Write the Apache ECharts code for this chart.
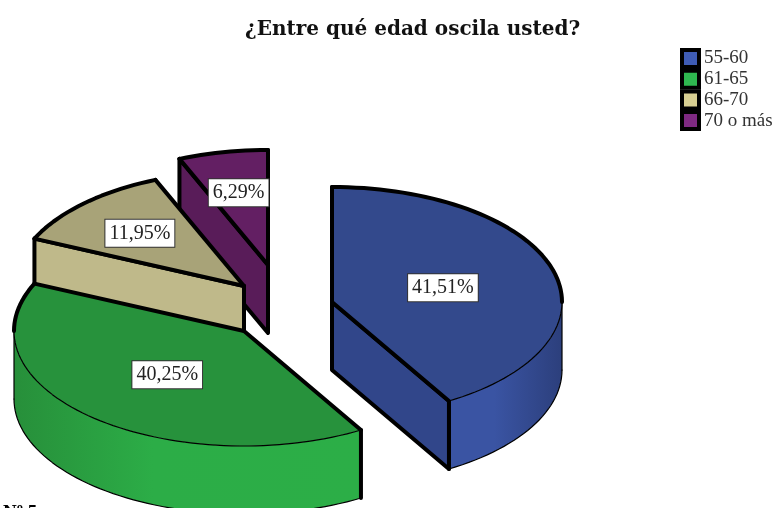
<!DOCTYPE html>
<html>
<head>
<meta charset="utf-8">
<script src="https://cdn.jsdelivr.net/npm/echarts@6/dist/echarts.min.js"></script>
<style>
html,body{margin:0;padding:0;background:#fff;}
#chart{width:774px;height:508px;}
</style>
</head>
<body>
<div id="chart"></div>
<script>
const categories = ['55-60', '61-65', '66-70', '70 o más']
const values = [41.51, 40.25, 11.95, 6.29]
const labels = ['41,51%', '40,25%', '11,95%', '6,29%']

// slice centres after the explode, and how far out the label sits
const centers = [[332, 302], [244, 331], [244, 286], [268, 265]]
const labelRadius = [0.5, 0.5, 0.65, 0.65]

const legendColors = ['#3f5cb5', '#2fb850', '#d8cf92', '#7f2a82']
const topColors = ['#33498c', '#27923c', '#a8a378', '#631f63']
const cutColors = ['#31468a', '#27923c', '#bfb98a', '#591c59']
const wallLeft = ['#3a54a3', '#278f3a', '#bfb98a', '#591c59']
const wallMid = ['#3a54a3', '#2cad47', '#bfb98a', '#591c59']
const wallRight = ['#2c3f7c', '#2cae47', '#bfb98a', '#591c59']

const rx = 230
const ry = 115
const depth = 68
const thick = 4
const thin = 1.2

const rad = d => d * Math.PI / 180

function pt(c, a, z) {
  return [c[0] + rx * Math.sin(rad(a)), c[1] - ry * Math.cos(rad(a)) + (z || 0)]
}

function arc(c, a1, a2, z) {
  const pts = []
  const n = Math.max(2, Math.ceil(Math.abs(a2 - a1) / 2))
  for (let k = 0; k <= n; k++) {
    pts.push(pt(c, a1 + (a2 - a1) * k / n, z))
  }
  return pts
}

function line(points, width) {
  return {
    type: 'polyline',
    shape: { points: points },
    style: { fill: null, stroke: '#000', lineWidth: width, lineJoin: 'round', lineCap: 'round' }
  }
}

function poly(points, fill) {
  return { type: 'polygon', shape: { points: points }, style: { fill: fill } }
}

function sliceAngles(i) {
  let start = 0
  for (let k = 0; k < i; k++) start += values[k]
  return [start * 3.6, (start + values[i]) * 3.6]
}

function renderSlice(i) {
  return function (params, api) {
    const c = centers[i]
    const [start, end] = sliceAngles(i)
    const children = []
    const bottom = [c[0], c[1] + depth]

    // outer wall, only the part facing the viewer
    const w1 = Math.max(start, 90)
    const w2 = Math.min(end, 270)
    if (w2 > w1) {
      const upper = arc(c, w1, w2, 0)
      const lower = arc(c, w1, w2, depth)
      children.push(poly(upper.concat(lower.slice().reverse()), new echarts.graphic.LinearGradient(1, 0, 0, 0, [
        { offset: 0, color: wallRight[i] },
        { offset: 0.6, color: wallMid[i] },
        { offset: 1, color: wallLeft[i] }
      ])))
      children.push(line(lower, thin))
      if (w1 === start) children.push(line([pt(c, start), pt(c, start, depth)], thick))
      if (w2 === end) children.push(line([pt(c, end), pt(c, end, depth)], thick))
      if (w1 === 90) children.push(line([pt(c, 90), pt(c, 90, depth)], thin))
      if (w2 === 270) children.push(line([pt(c, 270), pt(c, 270, depth)], thin))
    }

    // cut faces turned toward the viewer
    const addCut = a => {
      const p = pt(c, a)
      const q = pt(c, a, depth)
      children.push(poly([c, p, q, bottom], cutColors[i]))
      children.push(line([c, p, q, bottom, c], thick))
    }
    if (Math.cos(rad(start - 90)) < -0.001) addCut(start)
    if (Math.cos(rad(end + 90)) < -0.001) addCut(end)

    // top face
    const rim = arc(c, start, end, 0)
    children.push(poly([c].concat(rim), topColors[i]))
    children.push(line([c, pt(c, start)], thick))
    children.push(line([c, pt(c, end)], thick))
    // rim: heavy along the back, thin along the front
    const backA = arc(c, start, Math.min(end, 90), 0)
    const frontA = arc(c, Math.max(start, 90), Math.min(end, 270), 0)
    const backB = arc(c, Math.max(start, 270), end, 0)
    if (end > 90 && start < 270) children.push(line(frontA, thin))
    if (start < 90) children.push(line(backA, thick))
    if (end > 270) children.push(line(backB, thick))

    // value label box
    const mid = (start + end) / 2
    const r = labelRadius[i]
    children.push({
      type: 'text',
      z2: 10,
      style: {
        text: labels[i],
        x: c[0] + rx * r * Math.sin(rad(mid)),
        y: c[1] - ry * r * Math.cos(rad(mid)) + 1,
        align: 'center',
        verticalAlign: 'middle',
        font: '20px "Liberation Serif"',
        fill: '#222',
        backgroundColor: '#fff',
        borderColor: '#333',
        borderWidth: 1,
        padding: [4, 4, 3, 4]
      }
    })

    return { type: 'group', children: children }
  }
}

// back slices first, the near ones paint over them
const drawOrder = [3, 2, 1, 0]

const chart = echarts.init(document.getElementById('chart'), null, { renderer: 'canvas' })
chart.setOption({
  animation: false,
  backgroundColor: '#fff',
  title: {
    text: '¿Entre qué edad oscila usted?',
    left: 245,
    top: 20,
    padding: 0,
    textStyle: { fontFamily: 'DejaVu Serif', fontWeight: 'bold', fontSize: 20, color: '#111' }
  },
  legend: {
    data: categories,
    orient: 'vertical',
    left: 680,
    top: 48,
    padding: 0,
    itemWidth: 17,
    itemHeight: 17,
    itemGap: -0.3,
    icon: 'rect',
    selectedMode: false,
    itemStyle: { borderColor: '#000', borderWidth: 4 },
    textStyle: { fontFamily: 'Liberation Serif', fontSize: 19, color: '#333' }
  },
  graphic: [{
    type: 'text',
    left: 3,
    top: 504,
    style: { text: 'Nº 5', font: 'bold 19px "Liberation Serif"', fill: '#000' }
  }],
  series: drawOrder.map(i => ({
    type: 'custom',
    name: categories[i],
    coordinateSystem: 'none',
    silent: true,
    itemStyle: { color: legendColors[i] },
    data: [values[i]],
    renderItem: renderSlice(i)
  }))
})
</script>
</body>
</html>
